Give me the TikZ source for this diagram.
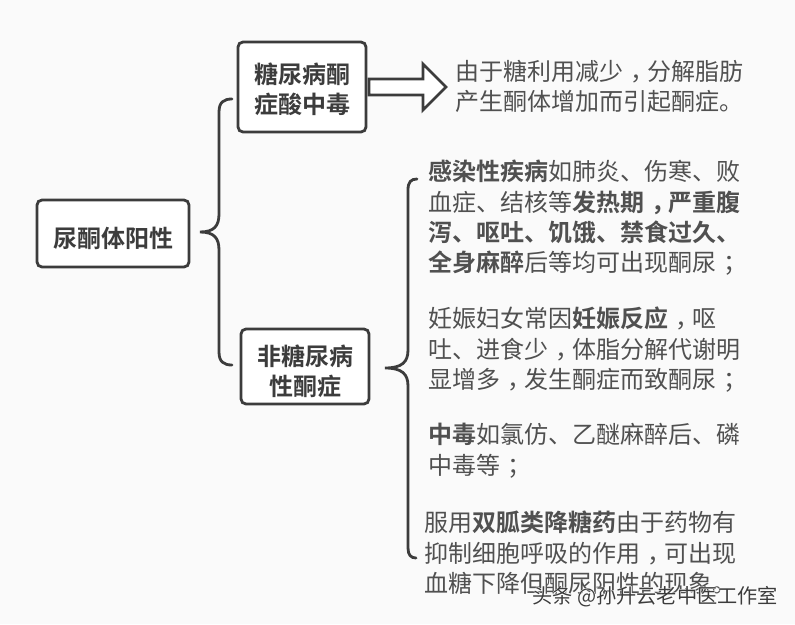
\documentclass[tikz,border=0pt]{standalone}
\usepackage{fontspec}
\setmainfont{Noto Sans CJK SC}[BoldFont={Noto Sans CJK SC Bold}]
\newfontfamily\wmhalo[FakeBold=4]{Noto Sans CJK SC}
\newfontfamily\wmfont{Noto Sans CJK SC}
\usetikzlibrary{calc}
\definecolor{ink}{HTML}{3C3C3C}
\definecolor{txt}{HTML}{505050}
\definecolor{paper}{HTML}{FAFAFA}
\newcommand\cmm{\kern.3em，\kern-.3em}
\newcommand\smc{\kern.3em；\kern-.3em}
\newcommand\lbl[2]{\raisebox{0pt}[\dimexpr\height+#1\relax][\depth]{\begin{tabular}{@{}c@{}}#2\end{tabular}}}
\tikzset{
  x=1pt,y=-1pt,
  topic/.style={draw=ink,line width=2.8pt,rounded corners=5pt,fill=white,text=ink,align=center,inner sep=0pt,
    font=\fontsize{24}{30}\selectfont\bfseries},
  para/.style={anchor=north west,inner sep=0pt,align=left,text=txt,font=\fontsize{24}{30.4}\selectfont},
  brace/.style={draw=ink,line width=2.8pt,line cap=round,rounded corners=0pt},
}
\begin{document}
\begin{tikzpicture}
\useasboundingbox[fill=paper] (0,0) rectangle (795,624);
\node[topic,minimum width=152pt,minimum height=67pt] (root) at (113,233.5) {\lbl{16pt}{尿酮体阳性}};
\node[topic,minimum width=128pt,minimum height=90pt] (dka) at (302,87) {\lbl{10pt}{糖尿病酮\\症酸中毒}};
\node[topic,minimum width=128pt,minimum height=73pt] (nondka) at (305,366.5) {\lbl{15pt}{非糖尿病\\性酮症}};
\coordinate (t1) at (200,232);
\coordinate (a1) at (232,99);
\coordinate (b1) at (232,365);
\coordinate (t2) at (385,368);
\coordinate (a2) at (417,179);
\coordinate (b2) at (416,558);
\draw[brace] (a1) .. controls (224,99) and (219,102) .. (219,112) -- (219,214)
  .. controls (219,226) and (214,232) .. (t1)
  .. controls (214,232) and (219,238) .. (219,250) -- (219,352)
  .. controls (219,362) and (224,365) .. (b1);
\draw[brace] (a2) .. controls (411,179) and (408,182) .. (408,190) -- (408,350)
  .. controls (408,362) and (402,368) .. (t2)
  .. controls (402,368) and (408,374) .. (408,386) -- (408,548)
  .. controls (408,555) and (411,558) .. (b2);
\draw[draw=ink,line width=2.8pt,line join=miter,fill=white]
  (369,79) -- (423,79) -- (423,64) -- (446,87) -- (423,110) -- (423,95) -- (369,95) -- cycle;
\node[para] (p0) at (455.5,60) {由于糖利用减少\cmm 分解脂肪\\产生酮体增加而引起酮症。};
\node[para] (p1) at (428,160) {\textbf{感染性疾病}如肺炎、伤寒、败\\血症、结核等\textbf{发热期\cmm 严重腹}\\\textbf{泻、呕吐、饥饿、禁食过久、}\\\textbf{全身麻醉}后等均可出现酮尿\smc};
\node[para] (p2) at (428,307) {妊娠妇女常因\textbf{妊娠反应}\cmm 呕\\吐、进食少\cmm 体脂分解代谢明\\显增多\cmm 发生酮症而致酮尿\smc};
\node[para] (p3) at (428,423) {\textbf{中毒}如氯仿、乙醚麻醉后、磷\\中毒等\smc};
\node[para] (p4) at (424,511) {服用\textbf{双胍类降糖药}由于药物有\\抑制细胞呼吸的作用\cmm 可出现\\血糖下降但酮尿阳性的现象。};
\node[anchor=base west,inner sep=0pt,text=white,font=\fontsize{20.2}{24}\wmhalo] (wh) at (532,603) {头条 @孙升云老中医工作室};
\node[anchor=base west,inner sep=0pt,text=ink,font=\fontsize{20.2}{24}\wmfont] (wm) at (532,603) {头条 @孙升云老中医工作室};
\end{tikzpicture}
\end{document}
